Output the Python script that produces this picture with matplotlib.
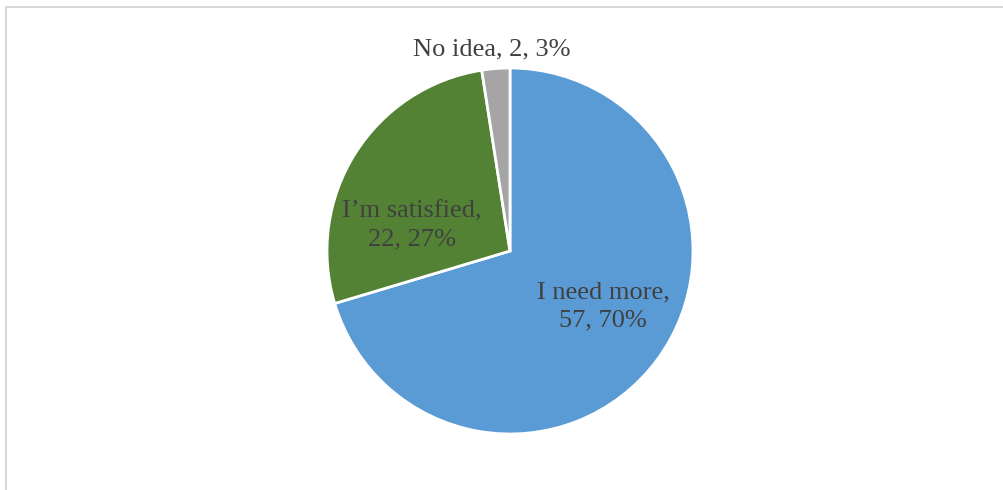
import matplotlib
matplotlib.use("Agg")
import matplotlib.pyplot as plt
from matplotlib.lines import Line2D

# survey answers, clockwise from 12 o'clock
answers = ["I need more", "I\u2019m satisfied", "No idea"]
counts = [57, 22, 2]
percents = [70, 27, 3]
colours = ["#5B9BD5", "#548235", "#A5A5A5"]

# label anchor points in pie units (radius = 1)
label_pos = [(0.51, -0.303), (-0.535, 0.14), (-0.10, 1.1)]
label_wrap = [True, True, False]

W, H = 1004, 490
fig = plt.figure(figsize=(W / 100, H / 100), dpi=100)

# light grey chart border (only top and left fall inside the canvas)
fig.add_artist(Line2D([5.5 / W, 5.5 / W], [0, 1 - 7.5 / H], transform=fig.transFigure,
                      color="#D9D9D9", lw=1.5))
fig.add_artist(Line2D([5.5 / W, 1], [1 - 7.5 / H, 1 - 7.5 / H], transform=fig.transFigure,
                      color="#D9D9D9", lw=1.5))

cx, cy, r = 510, 251, 183
ax = fig.add_axes([(cx - r) / W, (H - cy - r) / H, 2 * r / W, 2 * r / H])
ax.pie(counts, colors=colours, startangle=90, counterclock=False, radius=1,
       wedgeprops=dict(edgecolor="white", linewidth=2))
ax.set_xlim(-1, 1)
ax.set_ylim(-1, 1)
ax.set_aspect("equal")
ax.axis("off")

for name, n, pct, (x, y), wrap in zip(answers, counts, percents, label_pos, label_wrap):
    sep = ",\n" if wrap else ", "
    txt = f"{name}{sep}{n}, {pct}%"
    ax.text(x, y, txt, ha="center", va="center", family="Liberation Serif",
            fontsize=19, color="#404040", linespacing=1.4, clip_on=False)

fig.savefig("out.png", dpi=100)
